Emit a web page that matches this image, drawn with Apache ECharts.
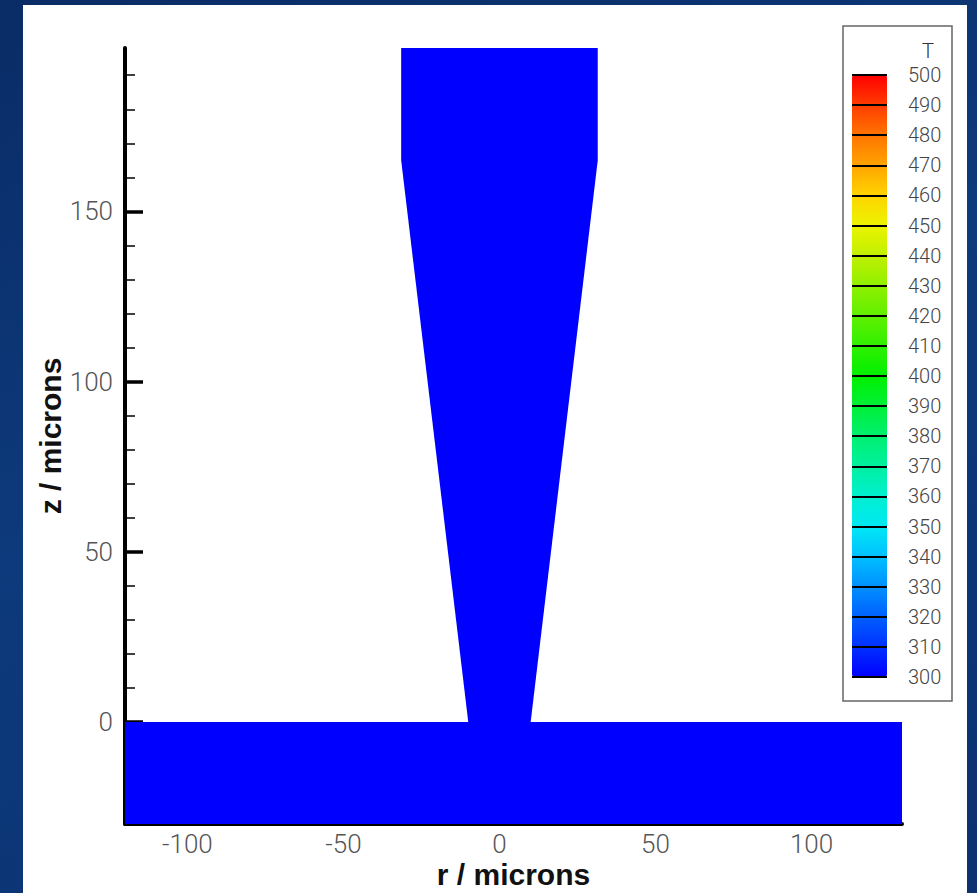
<!DOCTYPE html>
<html>
<head>
<meta charset="utf-8">
<script src="https://cdn.jsdelivr.net/npm/echarts@6/dist/echarts.min.js"></script>
<style>
  html, body { margin: 0; padding: 0; }
  body {
    width: 977px; height: 893px; overflow: hidden; position: relative;
    background: linear-gradient(160deg, #0a2c66 0%, #0d3a7c 45%, #0a3170 100%);
  }
  #panel { position: absolute; left: 23px; top: 5px; width: 944px; height: 888px; background: #fff; }
  #chart { position: absolute; left: 0; top: 0; width: 977px; height: 893px; }
</style>
</head>
<body>
<div id="panel"></div>
<div id="chart"></div>
<script>
// geometry of the two regions (r, z in microns) and their temperature
var nozzleR = [-31.5, 31.5, 31.5, 10, -10, -31.5];
var nozzleZ = [198, 198, 165, 0, 0, 165];
var substrateR = [-120, 129, 129, -120];
var substrateZ = [-30, -30, 0, 0];
var regionT = [300, 300];

// axis ticks
var rMajor = [-100, -50, 0, 50, 100];
var rMinor = [-110, -90, -80, -70, -60, -40, -30, -20, -10, 10, 20, 30, 40, 60, 70, 80, 90, 110, 120];
var zMajor = [0, 50, 100, 150];
var zMinor = [-20, -10, 10, 20, 30, 40, 60, 70, 80, 90, 110, 120, 130, 140, 160, 170, 180, 190];

// colour scale T = 300 .. 500, one colour per 10
var tempColors = ['#0000ff', '#0030ff', '#0060ff', '#0090ff', '#00c0ff', '#00e8f4', '#00f0d0', '#00f0a0',
  '#00f070', '#00f038', '#00f000', '#30f000', '#60f000', '#90f000', '#c0f000', '#ecf400',
  '#ffd400', '#ffa400', '#ff7400', '#ff3c00', '#ff0000'];

(function() {
  var regions = [
    nozzleR.map(function(r, i) { return [r, nozzleZ[i]]; }),
    substrateR.map(function(r, i) { return [r, substrateZ[i]]; })
  ];
  var labelFont = { color: '#555', fontFamily: 'Roboto', fontWeight: 300, fontSize: 26 };
  var titleFont = { color: '#111', fontFamily: 'Liberation Sans', fontWeight: 'bold', fontSize: 30 };
  var blackLine = { color: '#000', width: 4 };

  var chart = echarts.init(document.getElementById('chart'), null, { renderer: 'svg' });
  chart.setOption({
    animation: false,
    backgroundColor: 'transparent',
    title: {
      text: 'T', left: 917, top: 36,
      textStyle: { color: '#333', fontFamily: 'Roboto', fontWeight: 300, fontSize: 20 }
    },
    grid: [
      { left: 125, top: 48, width: 777, height: 776, outerBoundsMode: 'none', containLabel: false },
      { left: 852, top: 75, width: 35, height: 602, outerBoundsMode: 'none', containLabel: false }
    ],
    xAxis: [
      {
        type: 'value', gridIndex: 0, min: -120, max: 129, position: 'bottom',
        name: 'r / microns', nameLocation: 'middle', nameGap: 35, nameMoveOverlap: false,
        nameTextStyle: titleFont,
        axisLine: { onZero: false, lineStyle: blackLine },
        axisTick: { inside: true, length: 18, customValues: rMajor, lineStyle: { color: '#000', width: 3.5 } },
        axisLabel: Object.assign({ margin: 7, customValues: rMajor }, labelFont),
        splitLine: { show: false }
      },
      {
        type: 'value', gridIndex: 0, min: -120, max: 129, position: 'bottom',
        axisLine: { show: false, onZero: false },
        axisTick: { inside: true, length: 11, customValues: rMinor, lineStyle: { color: '#000', width: 1.5 } },
        axisLabel: { show: false },
        splitLine: { show: false }
      },
      { type: 'value', gridIndex: 1, min: 0, max: 1, show: false }
    ],
    yAxis: [
      {
        type: 'value', gridIndex: 0, min: -30, max: 198, position: 'left',
        name: 'z / microns', nameLocation: 'middle', nameGap: 60, nameMoveOverlap: false,
        nameTextStyle: titleFont,
        axisLine: { onZero: false, lineStyle: blackLine },
        axisTick: { inside: true, length: 18, customValues: zMajor, lineStyle: { color: '#000', width: 3.5 } },
        axisLabel: Object.assign({ margin: 12, customValues: zMajor }, labelFont),
        splitLine: { show: false }
      },
      {
        type: 'value', gridIndex: 0, min: -30, max: 198, position: 'left',
        axisLine: { show: false, onZero: false },
        axisTick: { inside: true, length: 10, customValues: zMinor, lineStyle: { color: '#000', width: 1.5 } },
        axisLabel: { show: false },
        splitLine: { show: false }
      },
      {
        type: 'value', gridIndex: 1, min: 300, max: 500, interval: 10, position: 'right', z: 10,
        axisLine: { show: false },
        axisTick: { show: false },
        axisLabel: { margin: 21, color: '#444', fontFamily: 'Roboto', fontWeight: 300, fontSize: 20 },
        splitLine: { show: true, lineStyle: { color: '#000', width: 2 } }
      }
    ],
    visualMap: {
      type: 'continuous', min: 300, max: 500, dimension: 1, seriesIndex: 0,
      calculable: false, hoverLink: false, padding: 0,
      left: 852, top: 75, itemWidth: 35, itemHeight: 602, z: 1,
      inRange: { color: tempColors }
    },
    graphic: [{
      type: 'rect', shape: { x: 843, y: 26, width: 109, height: 675 },
      style: { fill: 'none', stroke: '#666', lineWidth: 1.5 }, z: 0
    }],
    series: [{
      type: 'custom',
      coordinateSystem: 'cartesian2d',
      xAxisIndex: 0, yAxisIndex: 0,
      data: regionT.map(function(t, i) { return [i, t]; }),
      encode: { x: -1, y: -1 },
      renderItem: function(params, api) {
        var pts = regions[api.value(0)].map(function(p) { return api.coord(p); });
        return { type: 'polygon', shape: { points: pts }, style: { fill: api.visual('color'), stroke: null } };
      }
    }]
  });
})();
</script>
</body>
</html>
